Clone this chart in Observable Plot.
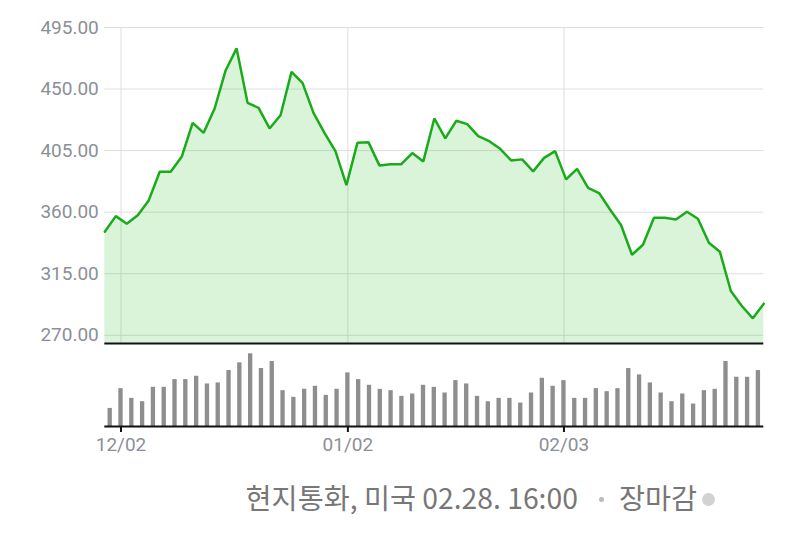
<!DOCTYPE html>
<html>
<head>
<meta charset="utf-8">
<script src="https://cdn.jsdelivr.net/npm/d3@7"></script>
<script src="https://cdn.jsdelivr.net/npm/@observablehq/plot@0.6"></script>
<style>
  html, body { margin: 0; padding: 0; background: #fff; }
  #wrap { position: relative; width: 800px; height: 536px; overflow: hidden; }
  #wrap svg { display: block; overflow: visible; }
  #caption {
    position: absolute; top: 477px; right: 85px;
    font-family: "Noto Sans CJK KR", "Noto Sans", sans-serif;
    font-size: 28.3px; color: #777; white-space: nowrap;
    display: flex; align-items: center; line-height: 40px;
  }
  #caption .sep { display: inline-block; width: 5px; height: 5px; border-radius: 50%; background: #bbb; margin: 4px 15px 0 21px; }
  #caption .live { display: inline-block; width: 13px; height: 13px; border-radius: 50%; background: #d2d2d2; margin: 4px 0 0 5px; }
</style>
</head>
<body>
<div id="wrap"></div>
<script>
// ---- data ----
const prices = [345.7, 357.1, 351.5, 357.7, 368.6, 389.5, 389.5, 400.5, 425.3, 418.0,
  435.8, 463.6, 479.7, 439.9, 436.3, 421.2, 430.9, 462.6, 454.5, 432.6,
  418.0, 404.6, 379.8, 410.7, 411.2, 394.2, 395.1, 395.1, 403.2, 397.1,
  428.5, 413.9, 426.8, 424.4, 415.6, 411.9, 406.3, 397.8, 398.6, 389.8,
  399.7, 404.6, 384.0, 391.7, 377.8, 374.0, 362.0, 350.6, 328.9, 336.2,
  355.9, 355.9, 354.7, 360.3, 355.2, 337.6, 331.1, 302.4, 291.4, 282.4, 293.1];
const volumes = [54, 113, 84, 74, 117, 117, 140, 140, 150, 127,
  130, 167, 190, 217, 173, 194, 107, 87, 111, 120,
  93, 111, 160, 140, 123, 111, 107, 90, 97, 123,
  117, 100, 137, 127, 90, 74, 84, 84, 70, 100,
  144, 120, 137, 84, 84, 113, 104, 113, 173, 154,
  130, 100, 74, 97, 67, 107, 111, 194, 147, 147, 167];
const yTicks = [270, 315, 360, 405, 450, 495];
const xTickIndex = [1, 22, 42];
const xTickLabels = ["12/02", "01/02", "02/03"];
const yMin = 264, yMax = 495;

const n = prices.length;
const priceData = prices.map((v, i) => ({i, v}));
const volData = volumes.map((v, i) => ({i, v}));
const labelOf = new Map(xTickIndex.map((d, k) => [d, xTickLabels[k]]));

const ML = 104.3, MR = 36.7;

const pricePlot = Plot.plot({
  width: 800, height: 344,
  marginLeft: ML, marginRight: MR, marginTop: 27, marginBottom: 1,
  style: {fontFamily: "Roboto, sans-serif", fontSize: "19px", background: "transparent", overflow: "visible"},
  x: {type: "linear", domain: [0, n - 1], axis: null},
  y: {domain: [yMin, yMax], axis: null},
  marks: [
    Plot.gridY(yTicks, {stroke: "#dedede", strokeOpacity: 1, strokeWidth: 1}),
    // vertical grid aligned with the centre of the volume bars (band centres)
    Plot.ruleX(xTickIndex, {x: d => (d + 0.5) * (n - 1) / n, stroke: "#dedede", strokeWidth: 1}),
    Plot.areaY(priceData, {x: "i", y1: yMin, y2: "v", fill: "#22c022", fillOpacity: 0.17}),
    Plot.lineY(priceData, {x: "i", y: "v", stroke: "#1aab1a", strokeWidth: 2.5, strokeLinejoin: "miter"}),
    Plot.ruleY([yMin], {stroke: "#111", strokeWidth: 2}),
    Plot.axisY(yTicks, {anchor: "left", label: null, tickSize: 0, tickPadding: 6, tickFormat: d3.format(".2f"),
      fill: "#8b8f97", fontSize: 19})
  ]
});

const volumePlot = Plot.plot({
  width: 800, height: 120,
  marginLeft: ML, marginRight: MR, marginTop: 9.3, marginBottom: 38,
  style: {fontFamily: "Roboto, sans-serif", fontSize: "19px", background: "transparent", overflow: "visible"},
  x: {type: "band", domain: d3.range(n), paddingInner: 0.6, paddingOuter: 0.3, axis: null},
  y: {domain: [0, d3.max(volumes)], axis: null},
  marks: [
    Plot.barY(volData, {x: "i", y: "v", fill: "#8e8e8e"}),
    Plot.ruleY([0], {stroke: "#111", strokeWidth: 2}),
    Plot.axisX(xTickIndex, {anchor: "bottom", label: null, tickSize: 6, tickPadding: 5, stroke: "#111", strokeWidth: 2,
      tickFormat: d => labelOf.get(d), fill: "#8b8f97", fontSize: 19})
  ]
});

const wrap = document.getElementById("wrap");
wrap.appendChild(pricePlot);
wrap.appendChild(volumePlot);

const cap = document.createElement("div");
cap.id = "caption";
cap.innerHTML = '<span>현지통화, 미국 02.28. 16:00</span><span class="sep"></span><span>장마감</span><span class="live"></span>';
wrap.appendChild(cap);
</script>
</body>
</html>
